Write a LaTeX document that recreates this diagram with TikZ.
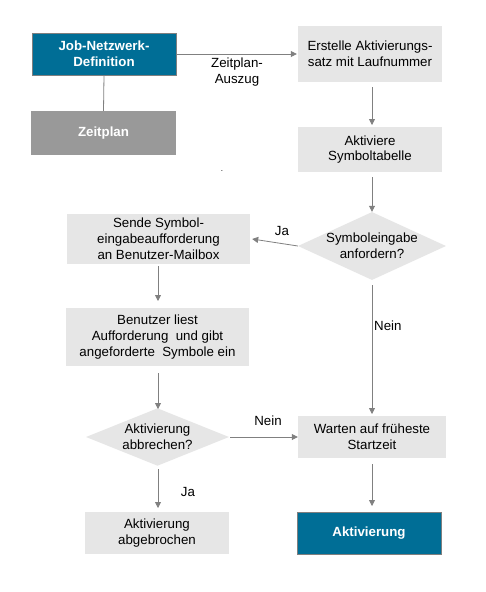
\documentclass[tikz,border=0pt]{standalone}
\usepackage{fontspec}
\setmainfont{Liberation Sans}
\usetikzlibrary{arrows.meta,shapes.geometric}
\definecolor{tealblue}{HTML}{006E96}
\definecolor{boxgray}{HTML}{E6E6E6}
\definecolor{darkgray2}{HTML}{999999}
\definecolor{linegray}{HTML}{808080}
\definecolor{edgegray}{HTML}{7F7F7F}
\begin{document}
\begin{tikzpicture}[x=1pt,y=-1pt,
  font=\fontsize{13.3}{15.8}\selectfont,
  lightbox/.style={fill=boxgray,draw=none,minimum width=#1,align=center,inner sep=0pt},
  bluebox/.style={fill=tealblue,draw=edgegray,line width=0.8pt,text=white,font=\fontsize{13.3}{15.8}\selectfont\bfseries,align=center,inner sep=0pt},
  graybox/.style={fill=darkgray2,draw=none,text=white,font=\fontsize{13.3}{15.8}\selectfont\bfseries,align=center,inner sep=0pt},
  decision/.style={diamond,aspect=2.2,fill=boxgray,draw=none,align=center,inner sep=0pt},
  conn/.style={draw=linegray,line width=0.8pt},
  arr/.style={conn,-{Triangle[width=6pt,length=6pt]}},
  lbl/.style={inner sep=0pt,align=center}]
\useasboundingbox (0,0) rectangle (486,592);
\fill[white] (0,0) rectangle (486,592);
% nodes
\node[bluebox,minimum width=144pt,minimum height=42pt] (jnd) at (104,54) {Job-Netzwerk-\\Definition};
\node[graybox,minimum width=145pt,minimum height=44pt] (zp) at (103.5,133) {Zeitplan};
\node[lightbox=144pt,minimum height=56pt] (erst) at (370,54) {Erstelle Aktivierungs-\\satz mit Laufnummer};
\node[lightbox=144pt,minimum height=45pt] (aktsym) at (370,149.5) {Aktiviere\\Symboltabelle};
\node[decision,minimum width=148pt,minimum height=68pt] (symd) at (372,246) {Symboleingabe\\anfordern?};
\node[lightbox=183pt,minimum height=50pt] (sende) at (158.5,239) {Sende Symbol-\\eingabeaufforderung\\ an Benutzer-Mailbox};
\node[lightbox=183pt,minimum height=58pt] (benu) at (157.5,337) {Benutzer liest\\Aufforderung~ und gibt\\angeforderte~ Symbole ein};
\node[decision,minimum width=143pt,minimum height=52pt] (abbr) at (157.5,437) {Aktivierung\\abbrechen?};
\node[lightbox=148pt,minimum height=42pt] (wart) at (372,437) {Warten auf früheste\\Startzeit};
\node[bluebox,minimum width=144pt,minimum height=42pt] (akt) at (369,533) {Aktivierung};
\node[lightbox=144pt,minimum height=42pt] (abg) at (157,533) {Aktivierung\\abgebrochen};
\node[lbl,font=\fontsize{8}{8}\selectfont] (dot) at (222,171) {.};
% helper coordinates for connector ends
\coordinate (e1s) at (372,87);
\coordinate (e1t) at (372,125);
\coordinate (e2s) at (372,177);
\coordinate (e3s) at (158,266);
\coordinate (e3t) at (158,301);
\coordinate (e4s) at (158,373);
\coordinate (e4t) at (158,409);
\coordinate (e5s) at (372,285);
\coordinate (e5t) at (372,414);
\coordinate (e6s) at (372,464);
\coordinate (e6t) at (372,506);
\coordinate (e7s) at (158,469);
\coordinate (e7t) at (158,508);
% connectors
\draw[conn] (jnd.south) -- (zp.north);
\draw[arr] (jnd.east) -- ([xshift=-1pt]erst.west);
\node[lbl] (lzp) at (237,72) {Zeitplan-\\Auszug};
\draw[arr] (e1s) -- (e1t);
\draw[arr] (e2s) -- (symd.north);
\draw[arr] (symd.west) -- ([xshift=2pt]sende.east);
\node[lbl] (lja1) at (282,231) {Ja};
\draw[arr] (e3s) -- (e3t);
\draw[arr] (e4s) -- (e4t);
\draw[arr] (e5s) -- (e5t);
\node[lbl,anchor=west] (lnein1) at (374,326) {Nein};
\draw[arr] ([xshift=1pt]abbr.east) -- (wart.west);
\node[lbl] (lnein2) at (268,421) {Nein};
\draw[arr] (e6s) -- (e6t);
\draw[arr] (e7s) -- (e7t);
\node[lbl] (lja2) at (188,492) {Ja};
\end{tikzpicture}
\end{document}
